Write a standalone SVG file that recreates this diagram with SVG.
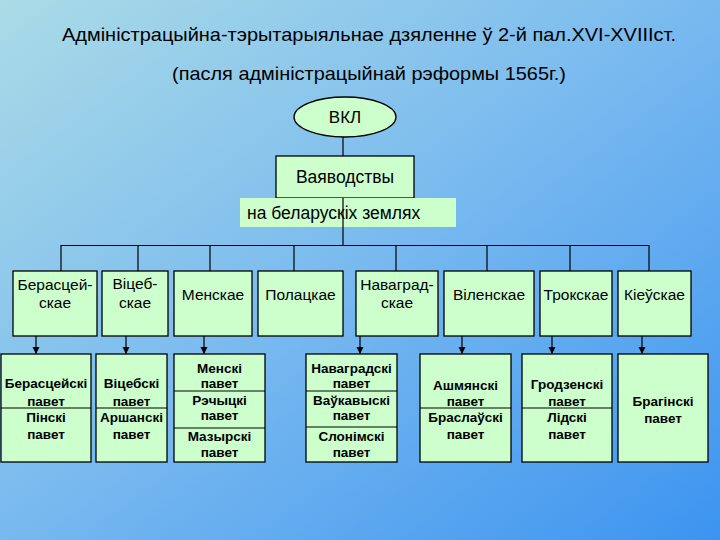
<svg xmlns="http://www.w3.org/2000/svg" width="720" height="540" viewBox="0 0 720 540">
<defs>
<linearGradient id="bg" x1="0" y1="0" x2="1" y2="1">
<stop offset="0" stop-color="#aadbe6"/>
<stop offset="0.5" stop-color="#78b9ef"/>
<stop offset="1" stop-color="#3c94f0"/>
</linearGradient>
<marker id="ar" markerWidth="8" markerHeight="8" refX="7" refY="4" orient="auto" markerUnits="userSpaceOnUse">
<path d="M0,0.5 L7,4 L0,7.5 Z" fill="#000"/>
</marker>
<style>
.bx{fill:#ccffcc;stroke:#000;stroke-width:1.3}
.ln{stroke:#000;stroke-width:1.2;fill:none}
.t{font-family:"Liberation Sans",Arial,sans-serif;fill:#000}
.m{font-size:15.5px;text-anchor:middle}
.b{font-size:13.5px;font-weight:bold;text-anchor:middle}
</style>
</defs>
<rect width="720" height="540" fill="url(#bg)"/>
<text class="t" x="62" y="41" font-size="19" textLength="614" lengthAdjust="spacingAndGlyphs">Адміністрацыйна-тэрытарыяльнае дзяленне ў 2-й пал.XVI-XVIIIст.</text>
<text class="t" x="172" y="80" font-size="19" textLength="394" lengthAdjust="spacingAndGlyphs">(пасля адміністрацыйнай рэформы 1565г.)</text>

<g id="connectors">
<line class="ln" x1="343" y1="137" x2="343" y2="156"/>
<line class="ln" x1="61" y1="245.5" x2="649" y2="245.5"/>
<line class="ln" x1="61" y1="245" x2="61" y2="271"/>
<line class="ln" x1="138" y1="245" x2="138" y2="271"/>
<line class="ln" x1="210" y1="245" x2="210" y2="271"/>
<line class="ln" x1="294" y1="245" x2="294" y2="271"/>
<line class="ln" x1="396" y1="245" x2="396" y2="271"/>
<line class="ln" x1="487" y1="245" x2="487" y2="271"/>
<line class="ln" x1="570" y1="245" x2="570" y2="271"/>
<line class="ln" x1="649" y1="245" x2="649" y2="271"/>
<line class="ln" x1="36" y1="336" x2="36" y2="354" marker-end="url(#ar)"/>
<line class="ln" x1="126" y1="336" x2="126" y2="354" marker-end="url(#ar)"/>
<line class="ln" x1="204" y1="336" x2="204" y2="354" marker-end="url(#ar)"/>
<line class="ln" x1="360" y1="336" x2="360" y2="354" marker-end="url(#ar)"/>
<line class="ln" x1="462" y1="336" x2="462" y2="354" marker-end="url(#ar)"/>
<line class="ln" x1="552" y1="336" x2="552" y2="354" marker-end="url(#ar)"/>
<line class="ln" x1="642" y1="336" x2="642" y2="354" marker-end="url(#ar)"/>
</g>

<g id="vkl">
<ellipse class="bx" cx="345" cy="117" rx="51" ry="20"/>
<text class="t" x="345" y="123" font-size="17" text-anchor="middle">ВКЛ</text>
</g>
<g id="vajavodstvy">
<rect class="bx" x="276" y="156" width="138" height="42"/>
<text class="t" x="345" y="183" font-size="17.5" text-anchor="middle">Ваяводствы</text>
</g>
<g id="label">
<rect x="240" y="198" width="216" height="29" fill="#ccffcc"/>
<line class="ln" x1="343" y1="198" x2="343" y2="245"/>
<text class="t" x="247" y="219" font-size="17.5">на беларускіх землях</text>
</g>

<g id="brest"><rect class="bx" x="13" y="271" width="84" height="65"/>
<text class="t m" x="55" y="290">Берасцей-</text><text class="t m" x="55" y="308">скае</text></g>
<g id="vitebsk"><rect class="bx" x="102" y="271" width="66" height="65"/>
<text class="t m" x="135" y="289">Віцеб-</text><text class="t m" x="135" y="308">скае</text></g>
<g id="minsk"><rect class="bx" x="174" y="271" width="78" height="65"/>
<text class="t m" x="213" y="300">Менскае</text></g>
<g id="polotsk"><rect class="bx" x="258" y="271" width="85" height="65"/>
<text class="t m" x="300.5" y="300">Полацкае</text></g>
<g id="novogrudok"><rect class="bx" x="356" y="271" width="82" height="65"/>
<text class="t m" x="397" y="290">Навагрaд-</text><text class="t m" x="397" y="308">скае</text></g>
<g id="vilnia"><rect class="bx" x="444" y="271" width="90" height="65"/>
<text class="t m" x="489" y="300">Віленскае</text></g>
<g id="troki"><rect class="bx" x="540" y="271" width="72" height="65"/>
<text class="t m" x="576" y="300">Трокскае</text></g>
<g id="kiev"><rect class="bx" x="618" y="271" width="73" height="65"/>
<text class="t m" x="654.5" y="300">Кіеўскае</text></g>

<g id="p-brest"><rect class="bx" x="1" y="354" width="90" height="108"/>
<line class="ln" x1="1" y1="408" x2="91" y2="408"/>
<text class="t b" x="46" y="388">Берасцейскі</text><text class="t b" x="46" y="406">павет</text>
<text class="t b" x="46" y="422">Пінскі</text><text class="t b" x="46" y="439">павет</text></g>
<g id="p-vitebsk"><rect class="bx" x="96" y="354" width="71" height="108"/>
<line class="ln" x1="96" y1="408" x2="167" y2="408"/>
<text class="t b" x="131.5" y="388">Віцебскі</text><text class="t b" x="131.5" y="406">павет</text>
<text class="t b" x="131.5" y="422">Аршанскі</text><text class="t b" x="131.5" y="439">павет</text></g>
<g id="p-minsk"><rect class="bx" x="174" y="354" width="91" height="108"/>
<line class="ln" x1="174" y1="391" x2="265" y2="391"/>
<line class="ln" x1="174" y1="428" x2="265" y2="428"/>
<text class="t b" x="219.5" y="373">Менскі</text><text class="t b" x="219.5" y="388">павет</text>
<text class="t b" x="219.5" y="405">Рэчыцкі</text><text class="t b" x="219.5" y="420">павет</text>
<text class="t b" x="219.5" y="441">Мазырскі</text><text class="t b" x="219.5" y="457">павет</text></g>
<g id="p-novogrudok"><rect class="bx" x="306" y="354" width="91" height="108"/>
<line class="ln" x1="306" y1="391" x2="397" y2="391"/>
<line class="ln" x1="306" y1="427" x2="397" y2="427"/>
<text class="t b" x="351.5" y="373">Наваградскі</text><text class="t b" x="351.5" y="388">павет</text>
<text class="t b" x="351.5" y="405">Ваўкавыскі</text><text class="t b" x="351.5" y="420">павет</text>
<text class="t b" x="351.5" y="441">Слонімскі</text><text class="t b" x="351.5" y="457">павет</text></g>
<g id="p-vilnia"><rect class="bx" x="420" y="354" width="91" height="108"/>
<line class="ln" x1="420" y1="408" x2="511" y2="408"/>
<text class="t b" x="465.5" y="390">Ашмянскі</text><text class="t b" x="465.5" y="406">павет</text>
<text class="t b" x="465.5" y="422">Браслаўскі</text><text class="t b" x="465.5" y="439">павет</text></g>
<g id="p-troki"><rect class="bx" x="522" y="354" width="90" height="108"/>
<line class="ln" x1="522" y1="408" x2="612" y2="408"/>
<text class="t b" x="567" y="389">Гродзенскі</text><text class="t b" x="567" y="406">павет</text>
<text class="t b" x="567" y="422">Лідскі</text><text class="t b" x="567" y="439">павет</text></g>
<g id="p-kiev"><rect class="bx" x="618" y="354" width="90" height="108"/>
<text class="t b" x="663" y="406">Брагінскі</text><text class="t b" x="663" y="423">павет</text></g>
</svg>
